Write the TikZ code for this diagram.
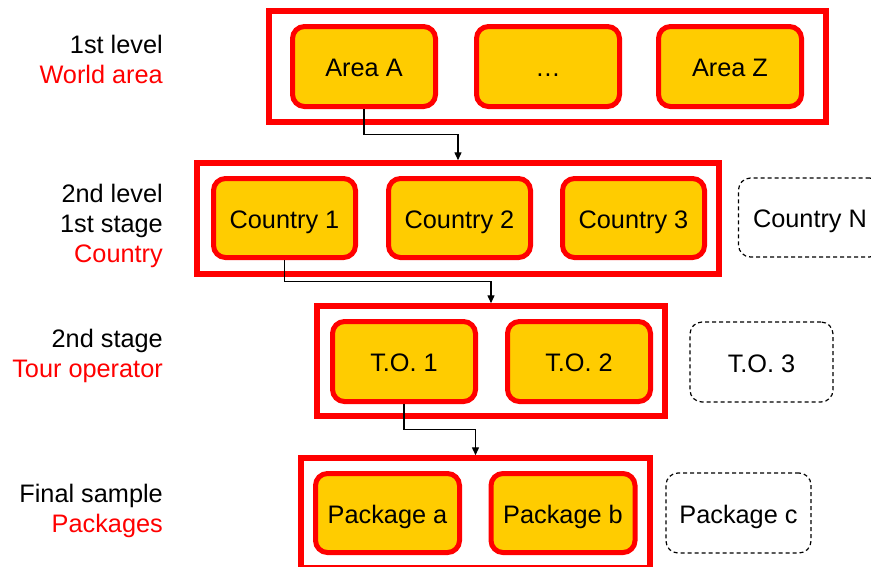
\documentclass[tikz,border=0pt]{standalone}
\usepackage{fontspec}
\setmainfont{Liberation Sans}
\usetikzlibrary{arrows.meta,calc}
\definecolor{boxred}{RGB}{255,0,0}
\definecolor{boxyellow}{RGB}{255,204,0}
\begin{document}
\begin{tikzpicture}[x=1pt,y=-1pt,
  every node/.style={font=\fontsize{25.3}{30}\selectfont},
  levelbox/.style={draw=boxred, line width=5.5pt, inner sep=0pt},
  itembox/.style={draw=boxred, fill=boxyellow, line width=5pt, rounded corners=12pt, minimum width=143pt, minimum height=80pt, inner sep=0pt, text height=22pt, text depth=2pt},
  ghostbox/.style={draw=black, dash pattern=on 4pt off 3pt, line width=1.2pt, rounded corners=12pt, minimum width=143pt, minimum height=79pt, inner sep=0pt, text height=22pt, text depth=2pt},
  conn/.style={draw=black, line width=1.4pt, -{Triangle[length=8pt,width=7pt]}},
  lbl/.style={anchor=east, align=right, inner sep=0pt}]
\useasboundingbox (0,0) rectangle (871,566);
\clip (0,0) rectangle (871,566);

% level boxes
\node[levelbox, minimum width=557pt, minimum height=111pt] (lvl1) at (547.5,66.5) {};
\node[levelbox, minimum width=522pt, minimum height=111pt] (lvl2) at (458,218.5) {};
\node[levelbox, minimum width=348pt, minimum height=110pt] (lvl3) at (491,361) {};
\node[levelbox, minimum width=349pt, minimum height=110pt] (lvl4) at (475.5,513) {};

% items
\node[itembox] (areaA) at (364,66.5) {Area A};
\node[itembox] (areadots) at (548,66.5) {\dots};
\node[itembox] (areaZ) at (730,66.5) {Area Z};

\node[itembox, minimum width=142pt, minimum height=79pt] (c1) at (284.5,218) {Country 1};
\node[itembox, minimum width=142pt, minimum height=79pt] (c2) at (459.5,218) {Country 2};
\node[itembox, minimum width=142pt, minimum height=79pt] (c3) at (633.5,218) {Country 3};
\node[ghostbox] (cN) at (810,217.5) {Country N};

\node[itembox] (to1) at (404,361.5) {T.O. 1};
\node[itembox] (to2) at (579,361.5) {T.O. 2};
\node[ghostbox, minimum height=80pt] (to3) at (761.5,362) {T.O. 3};

\node[itembox, minimum width=144pt, minimum height=79pt] (pa) at (387.5,513) {Package a};
\node[itembox, minimum width=144pt, minimum height=79pt] (pb) at (563,513) {Package b};
\node[ghostbox, minimum width=145pt, minimum height=80pt] (pc) at (738.5,513) {Package c};

% connectors
\draw[conn] (areaA.south) |- ($(areaA.south)!.5!(lvl2.north)$) -| (lvl2.north);
\draw[conn] (c1.south) |- ($(c1.south)!.5!(lvl3.north)$) -| (lvl3.north);
\draw[conn] (to1.south) |- ($(to1.south)!.5!(lvl4.north)$) -| (lvl4.north);

% labels
\node[lbl] (lab1) at (163,59.5) {1st level\\\textcolor{boxred}{World area}};
\node[lbl] (lab2) at (163,225.5) {2nd level\\1st stage\\\textcolor{boxred}{Country}};
\node[lbl] (lab3) at (163,355.5) {2nd stage\\\textcolor{boxred}{Tour operator}};
\node[lbl] (lab4) at (163,510.5) {Final sample\\\textcolor{boxred}{Packages}};
\end{tikzpicture}
\end{document}
